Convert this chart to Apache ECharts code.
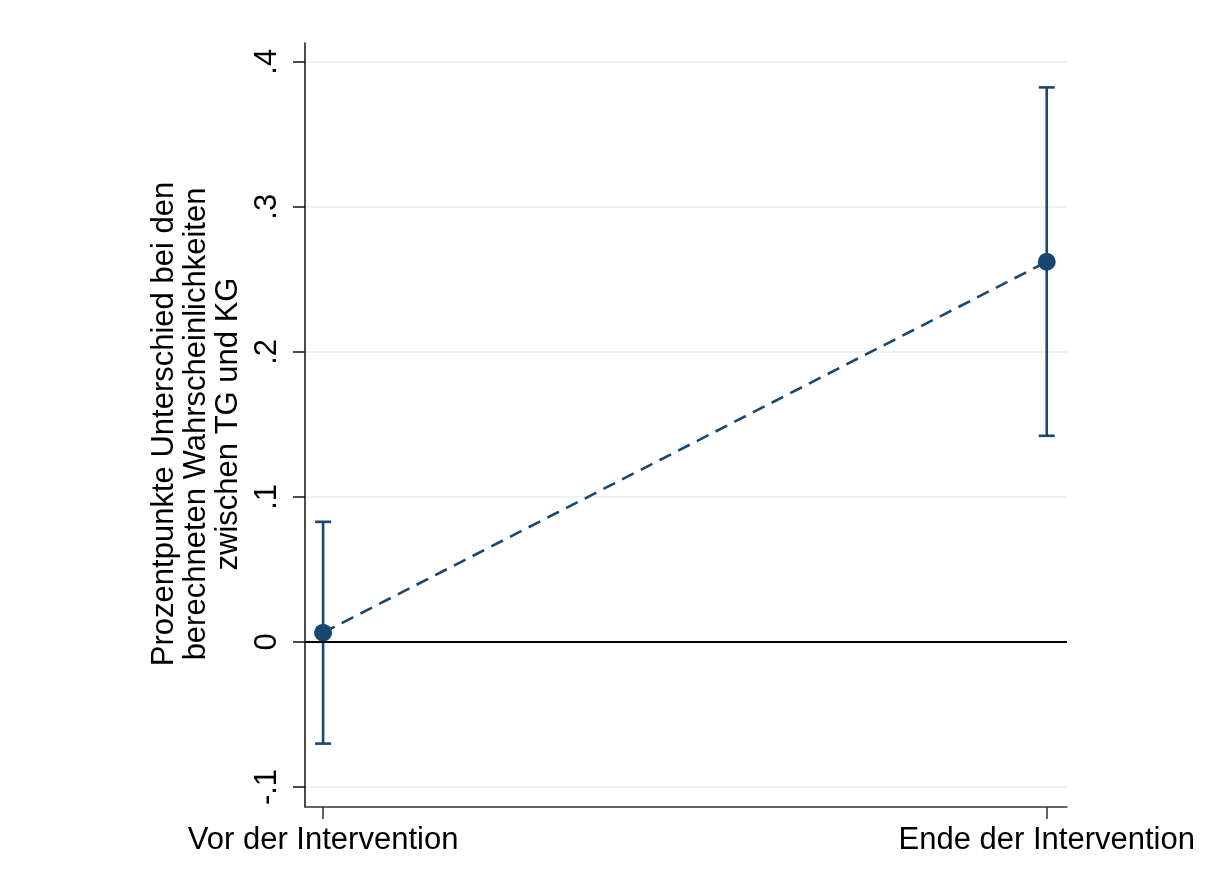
<!DOCTYPE html>
<html>
<head>
<meta charset="utf-8">
<title>Unterschied TG KG</title>
<script src="https://cdn.jsdelivr.net/npm/echarts@6/dist/echarts.min.js"></script>
<style>
  html, body { margin: 0; padding: 0; background: #fff; }
  #chart { width: 1212px; height: 886px; }
</style>
</head>
<body>
<div id="chart"></div>
<script>
// categories on the x axis (placed at 0 and 1)
const categories = ['Vor der Intervention', 'Ende der Intervention'];
const catIndex = [0, 1];
// point estimates and confidence bounds
const estimate = [0.0064, 0.2621];
const lower = [-0.0701, 0.1421];
const upper = [0.0828, 0.3823];
// y tick values and labels
const yTicks = [-0.1, 0, 0.1, 0.2, 0.3, 0.4];
const yTickLabels = ['-.1', '0', '.1', '.2', '.3', '.4'];

const navy = '#1a476f';
const font = 'Liberation Sans, Arial, sans-serif';

const chart = echarts.init(document.getElementById('chart'));

const pointData = catIndex.map((x, i) => [x, estimate[i]]);
const barData = catIndex.map((x, i) => [x, lower[i], upper[i]]);

chart.setOption({
  animation: false,
  backgroundColor: '#fff',
  grid: { left: 305, right: 145, top: 43, bottom: 79 },
  xAxis: {
    type: 'value',
    min: -0.025,
    max: 1.028,
    axisLine: { show: true, onZero: false, lineStyle: { color: '#333', width: 1.5 } },
    axisTick: { show: true, customValues: catIndex, length: 12, lineStyle: { color: '#333', width: 1.5 } },
    axisLabel: {
      customValues: catIndex,
      margin: 18,
      fontSize: 31,
      fontFamily: font,
      color: '#000',
      formatter: v => categories[Math.round(v)]
    },
    splitLine: { show: false }
  },
  yAxis: {
    type: 'value',
    min: -0.1138,
    max: 0.4129,
    axisLine: { show: true, onZero: false, lineStyle: { color: '#111', width: 1.5 } },
    axisTick: { show: true, customValues: yTicks, length: 12, lineStyle: { color: '#111', width: 1.5 } },
    axisLabel: {
      customValues: yTicks,
      rotate: 90,
      margin: 22,
      fontSize: 31,
      fontFamily: font,
      color: '#000',
      formatter: v => {
        const i = yTicks.findIndex(t => Math.abs(t - v) < 1e-9);
        return i >= 0 ? yTickLabels[i] : '';
      }
    },
    splitLine: { show: true, lineStyle: { color: '#e4edf0', width: 1.5 } }
  },
  graphic: [{
    type: 'text',
    x: 196,
    y: 424,
    rotation: Math.PI / 2,
    style: {
      text: 'Prozentpunkte Unterschied bei den\nberechneten Wahrscheinlichkeiten\nzwischen TG und KG',
      fontSize: 31,
      fontFamily: font,
      fill: '#000',
      lineHeight: 32,
      align: 'center',
      verticalAlign: 'middle'
    }
  }],
  series: [
    {
      type: 'line',
      data: [],
      silent: true,
      markLine: {
        silent: true,
        symbol: 'none',
        label: { show: false },
        lineStyle: { color: '#000', width: 2, type: 'solid' },
        data: [{ yAxis: 0 }]
      }
    },
    {
      type: 'custom',
      data: barData,
      z: 3,
      renderItem: (params, api) => {
        const lo = api.coord([api.value(0), api.value(1)]);
        const hi = api.coord([api.value(0), api.value(2)]);
        const cap = 8;
        const style = { stroke: navy, lineWidth: 2.6 };
        return {
          type: 'group',
          children: [
            { type: 'line', shape: { x1: lo[0], y1: lo[1], x2: hi[0], y2: hi[1] }, style },
            { type: 'line', shape: { x1: lo[0] - cap, y1: lo[1], x2: lo[0] + cap, y2: lo[1] }, style },
            { type: 'line', shape: { x1: hi[0] - cap, y1: hi[1], x2: hi[0] + cap, y2: hi[1] }, style }
          ]
        };
      }
    },
    {
      type: 'line',
      data: pointData,
      z: 4,
      symbol: 'circle',
      symbolSize: 18,
      showAllSymbol: true,
      itemStyle: { color: navy },
      lineStyle: { color: navy, width: 2.6, type: [13, 8] }
    }
  ]
});
</script>
</body>
</html>
